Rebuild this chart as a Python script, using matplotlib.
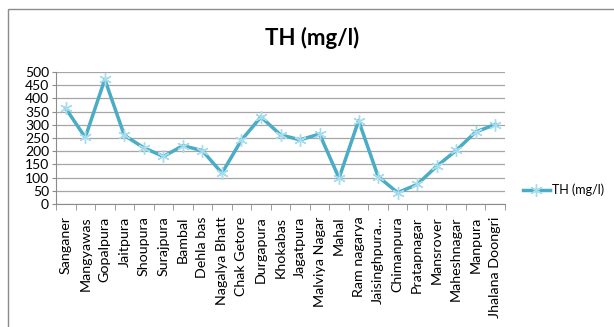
"""
TH (mg/l) line chart, recreated from an Excel-style figure.
"""

import matplotlib.pyplot as plt
from matplotlib.patches import Rectangle

plt.rcParams["font.family"] = ["Lato", "DejaVu Sans"]

locations = [
    "Sanganer", "Mangyawas", "Gopalpura", "Jaitpura", "Shoupura", "Surajpura",
    "Bambal", "Dehla bas", "Nagalya Bhatt", "Chak Getore", "Durgapura",
    "Khokabas", "Jagatpura", "Malviya Nagar", "Mahal", "Ram nagarya",
    "Jaisinghpura...", "Chimanpura", "Pratapnagar", "Mansrover",
    "Maheshnagar", "Manpura", "Jhalana Doongri",
]
th_values = [
    362, 252, 472, 260, 213, 180, 221, 202, 117, 242, 330, 262,
    243, 265, 98, 316, 104, 43, 74, 143, 203, 273, 301,
]
y_ticks = list(range(0, 501, 50))

W, H = 614, 327
fig = plt.figure(figsize=(W / 100, H / 100), dpi=100)

# chart border (cropped at right and bottom in the original)
fig.patches.append(Rectangle((8 / W, -0.05), 1.1, (H - 9) / H + 0.05,
                             transform=fig.transFigure, fill=False,
                             edgecolor="#8c8c8c", linewidth=1.0))

ax = fig.add_axes([56 / W, (H - 204) / H, (505 - 56) / W, (204 - 72) / H])

x = list(range(len(locations)))
ax.plot(x, th_values, color="#4bacc6", linewidth=2.5, label="TH (mg/l)",
        marker=(6, 2, 0), markersize=9, markeredgecolor="#a6dcec",
        markeredgewidth=1.0, zorder=3)

ax.set_xlim(-0.5, len(locations) - 0.5)
ax.set_ylim(0, 500)
ax.set_yticks(y_ticks)
ax.set_xticks(x)
ax.set_xticklabels(locations, rotation=90, fontsize=10.3)
ax.tick_params(axis="y", labelsize=10, length=3, color="#8c8c8c", pad=2)
ax.tick_params(axis="x", length=0, pad=9)
# minor ticks at category boundaries like Excel
ax.set_xticks([i - 0.5 for i in range(len(locations) + 1)], minor=True)
ax.tick_params(axis="x", which="minor", length=4, color="#8c8c8c")

ax.grid(axis="y", color="#a6a6a6", linewidth=0.9)
ax.set_axisbelow(True)
for side in ["top", "right"]:
    ax.spines[side].set_visible(False)
ax.spines["left"].set_color("#8c8c8c")
ax.spines["bottom"].set_color("#8c8c8c")

fig.text(312 / W, 1 - 38 / H, "TH (mg/l)", ha="center", va="center",
         fontsize=16, fontweight="bold")

fig.legend(loc="center left", bbox_to_anchor=(512 / W, 1 - 190 / H),
           frameon=False, fontsize=9, handlelength=2.1, handletextpad=0.2)

fig.savefig("out.png", dpi=100)
